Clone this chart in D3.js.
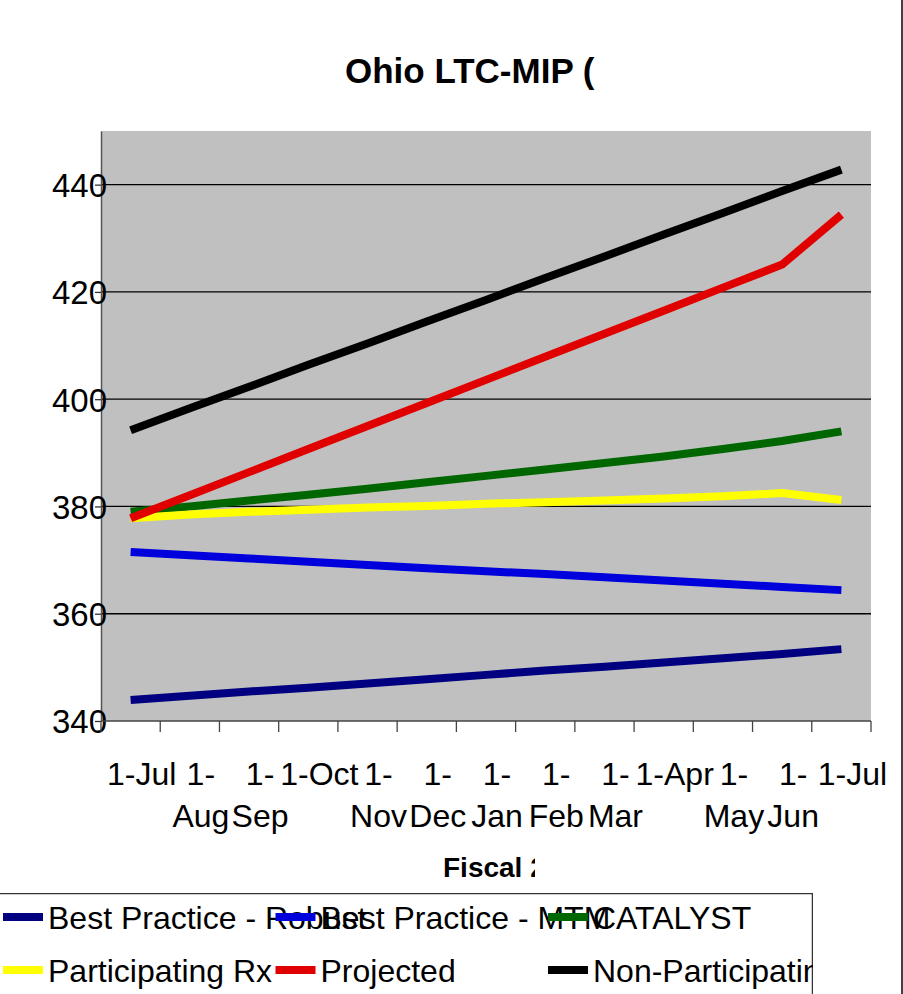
<!DOCTYPE html>
<html>
<head>
<meta charset="utf-8">
<script src="https://cdn.jsdelivr.net/npm/d3@7/dist/d3.min.js"></script>
<style>
  html, body { margin: 0; padding: 0; background: #fff; }
  svg { display: block; font-family: "Liberation Sans", Arial, sans-serif; }
</style>
</head>
<body>
<svg id="chart" width="903" height="994"></svg>
<script>
// ---------- data ----------
const categories = ["1-Jul","1-Aug","1-Sep","1-Oct","1-Nov","1-Dec","1-Jan","1-Feb","1-Mar","1-Apr","1-May","1-Jun","1-Jul"];
const seriesNames = ["Best Practice - Robust","Best Practice - MTM","CATALYST","Participating Rx","Projected","Non-Participating"];
const seriesColors = ["#000080","#0000dd","#006600","#ffff00","#e00000","#000000"];
const bestPracticeRobust = [343.9,344.7,345.5,346.2,347.0,347.8,348.6,349.4,350.1,350.9,351.7,352.5,353.4];
const bestPracticeMTM    = [371.5,370.9,370.3,369.7,369.1,368.5,367.9,367.4,366.8,366.2,365.6,365.0,364.4];
const catalyst           = [379.0,380.0,381.1,382.2,383.3,384.5,385.7,386.9,388.1,389.3,390.7,392.2,394.0];
const participatingRx    = [377.8,378.5,379.0,379.4,379.8,380.1,380.5,380.8,381.1,381.5,381.9,382.5,381.2];
const projected          = [377.8,382.1,386.4,390.7,395.0,399.3,403.6,407.9,412.2,416.5,420.8,425.1,434.4];
const nonParticipating   = [394.2,398.3,402.3,406.4,410.4,414.5,418.5,422.6,426.6,430.7,434.7,438.8,442.8];
const seriesValues = [bestPracticeRobust,bestPracticeMTM,catalyst,participatingRx,projected,nonParticipating];
const yTicks = [340,360,380,400,420,440];
const titleText = "Ohio LTC-MIP (";
const xTitleText = "Fiscal 2";

// ---------- layout ----------
const svg = d3.select("#chart");
const plot = {left: 101, right: 871, top: 131, bottom: 721};

const x = d3.scaleBand().domain(d3.range(categories.length)).range([plot.left, plot.right]).padding(0);
const y = d3.scaleLinear().domain([340, 450]).range([plot.bottom, plot.top]);

const defs = svg.append("defs");
defs.append("clipPath").attr("id","clipTitle").append("rect").attr("x",0).attr("y",0).attr("width",600).attr("height",130);
defs.append("clipPath").attr("id","clipXTitle").append("rect").attr("x",0).attr("y",830).attr("width",535).attr("height",60);
defs.append("clipPath").attr("id","clipLegend").append("rect").attr("x",0).attr("y",893).attr("width",813).attr("height",101);

// plot background
svg.append("rect")
  .attr("x", plot.left).attr("y", plot.top)
  .attr("width", plot.right - plot.left).attr("height", plot.bottom - plot.top)
  .attr("fill", "#c0c0c0");

// gridlines
svg.append("g").selectAll("line")
  .data(yTicks.filter(d => d > 340))
  .join("line")
  .attr("x1", plot.left).attr("x2", plot.right)
  .attr("y1", d => y(d)).attr("y2", d => y(d))
  .attr("stroke", "#000").attr("stroke-width", 1.3);

// y axis
const yAxis = d3.axisLeft(y).tickValues(yTicks).tickSize(6).tickSizeOuter(0).tickFormat(d3.format("d"));
const yg = svg.append("g").attr("transform", `translate(${plot.left},0)`).call(yAxis);
yg.select(".domain").attr("stroke", "#555").attr("stroke-width", 1.5);
yg.selectAll(".tick line").attr("stroke", "#333").attr("stroke-width", 1.3);
yg.selectAll(".tick text")
  .attr("x", 6).attr("dy", "0.36em")
  .attr("font-size", 33).attr("font-family", "Liberation Sans, Arial, sans-serif")
  .attr("fill", "#000");

// x axis line and ticks at category boundaries
const xg = svg.append("g");
xg.append("line")
  .attr("x1", plot.left).attr("x2", plot.right)
  .attr("y1", plot.bottom).attr("y2", plot.bottom)
  .attr("stroke", "#444").attr("stroke-width", 1.5);
const boundaries = d3.range(categories.length + 1).map(i => i < categories.length ? x(i) : x(categories.length - 1) + x.bandwidth());
xg.selectAll("line.tk").data(boundaries).join("line").attr("class","tk")
  .attr("x1", d => d).attr("x2", d => d)
  .attr("y1", plot.bottom).attr("y2", plot.bottom + 11)
  .attr("stroke", "#444").attr("stroke-width", 1.3);

// x labels (wrapped like Excel)
const labelG = svg.append("g").attr("font-size", 32).attr("fill", "#000").attr("text-anchor", "middle");
categories.forEach((c, i) => {
  const cx = x(i) + x.bandwidth() / 2 + 11;
  const isWide = (c === "1-Jul" || c === "1-Oct" || c === "1-Apr");
  const t = labelG.append("text").attr("x", cx).attr("y", 785);
  if (isWide) {
    t.text(c);
  } else {
    const parts = c.split("-");
    t.append("tspan").attr("x", cx).attr("y", 785).text(parts[0] + "-");
    t.append("tspan").attr("x", cx).attr("y", 827).text(parts[1]);
  }
});

// lines
const line = d3.line().x((d, i) => x(i) + x.bandwidth() / 2).y(d => y(d));
svg.append("g").selectAll("path")
  .data(seriesValues)
  .join("path")
  .attr("d", d => line(d))
  .attr("fill", "none")
  .attr("stroke", (d, i) => seriesColors[i])
  .attr("stroke-width", 8)
  .attr("stroke-linejoin", "miter")
  .attr("stroke-linecap", "butt");

// title
svg.append("text")
  .attr("clip-path", "url(#clipTitle)")
  .attr("x", 345).attr("y", 83)
  .attr("font-size", 35).attr("font-weight", "bold")
  .text(titleText);

// x axis title
svg.append("text")
  .attr("clip-path", "url(#clipXTitle)")
  .attr("x", 443).attr("y", 877)
  .attr("font-size", 28).attr("font-weight", "bold")
  .text(xTitleText);

// legend
const lg = svg.append("g").attr("clip-path", "url(#clipLegend)");
lg.append("path")
  .attr("d", "M-5,893.5 H812.5 V1000")
  .attr("fill", "none").attr("stroke", "#333").attr("stroke-width", 1.5);
seriesNames.forEach((name, i) => {
  const col = i % 3, row = Math.floor(i / 3);
  const sx = 3 + col * 272.5;
  const sy = 917 + row * 53;
  const eg = lg.append("g");
  eg.append("line")
    .attr("x1", sx).attr("x2", sx + 40)
    .attr("y1", sy).attr("y2", sy)
    .attr("stroke", seriesColors[i]).attr("stroke-width", 8);
  eg.append("text")
    .attr("x", sx + 45).attr("y", sy + 12)
    .attr("font-size", 32).attr("fill", "#000")
    .text(name);
});

// right border of chart area
svg.append("line")
  .attr("x1", 902).attr("x2", 902).attr("y1", 0).attr("y2", 994)
  .attr("stroke", "#000").attr("stroke-width", 1.5);
</script>
</body>
</html>
